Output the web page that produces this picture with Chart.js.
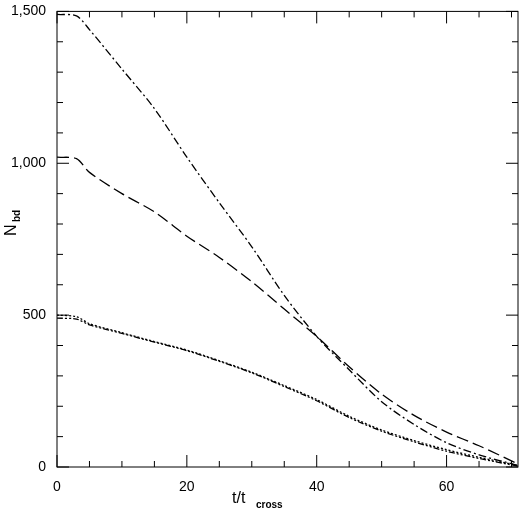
<!DOCTYPE html><html><head><script src="https://cdn.jsdelivr.net/npm/chart.js@4"></script>
<style>body{margin:0;background:#fff}#w{width:520px;height:515px}</style></head><body><div id="w"><canvas id="c"></canvas></div>
<script>
const xs=[0,3,5,10,15,20,25,30,35,40,45,50,55,60,65,71];
const n1500=[1490,1485,1440,1310,1180,1020,870,725,565,430,320,215,140,80,40,5];
const n1000=[1020,1015,970,900,840,760,690,610,520,430,330,240,170,115,70,10];
const n500a=[500,495,472,442,413,385,350,312,268,222,167,122,87,57,32,5];
const n500b=[490,487,468,440,411,383,348,310,265,218,163,118,83,52,28,3];
const xTicks=[0,20,40,60], yTicks=[0,500,1000,1500];
const mk=(d,dash)=>({data:xs.map((x,i)=>({x,y:d[i]})),borderColor:'#000',borderWidth:1.3,borderDash:dash,pointRadius:0,tension:0.3,fill:false});
const ticks={id:'t',afterDraw(c){const g=c.ctx,a=c.chartArea,X=c.scales.x,Y=c.scales.y;g.save();g.strokeStyle='#000';g.lineWidth=1;g.beginPath();
for(let v=0;v<=70;v+=5){const p=X.getPixelForValue(v),L=v%20==0?12:6;g.moveTo(p,a.bottom);g.lineTo(p,a.bottom-L);g.moveTo(p,a.top);g.lineTo(p,a.top+L);}
for(let v=0;v<=1500;v+=100){const p=Y.getPixelForValue(v),L=v%500==0?12:6;g.moveTo(a.left,p);g.lineTo(a.left+L,p);g.moveTo(a.right,p);g.lineTo(a.right-L,p);}
g.stroke();g.strokeRect(a.left,a.top,a.right-a.left,a.bottom-a.top);
g.fillStyle='#000';g.font='16px "Liberation Sans"';g.textAlign='left';g.fillText('t/t',232,503);g.font='bold 10px "Liberation Sans"';g.fillText('cross',256,508);
g.translate(16,236);g.rotate(-Math.PI/2);g.font='16px "Liberation Sans"';g.fillText('N',0,0);g.font='bold 10px "Liberation Sans"';g.fillText('bd',14,4);g.restore();}};
new Chart(document.getElementById('c'),{type:'line',data:{datasets:[mk(n1500,[8,3,2,3]),mk(n1000,[12,5]),mk(n500a,[2,2]),mk(n500b,[6,2,2,2,2,2])]},
options:{responsive:true,maintainAspectRatio:false,animation:false,layout:{padding:{left:0,right:2,top:5,bottom:0}},plugins:{legend:{display:false},tooltip:{enabled:false}},
scales:{x:{type:'linear',min:0,max:71,grid:{display:false},border:{display:false},afterBuildTicks:s=>{s.ticks=xTicks.map(v=>({value:v}))},ticks:{color:'#000',font:{size:14,family:'Liberation Sans'},padding:4},afterFit:s=>{s.height=48}},
y:{min:0,max:1500,grid:{display:false},border:{display:false},afterBuildTicks:s=>{s.ticks=yTicks.map(v=>({value:v}))},ticks:{color:'#000',font:{size:14,family:'Liberation Sans'}},afterFit:s=>{s.width=57}}}},plugins:[ticks]});
</script></body></html>
